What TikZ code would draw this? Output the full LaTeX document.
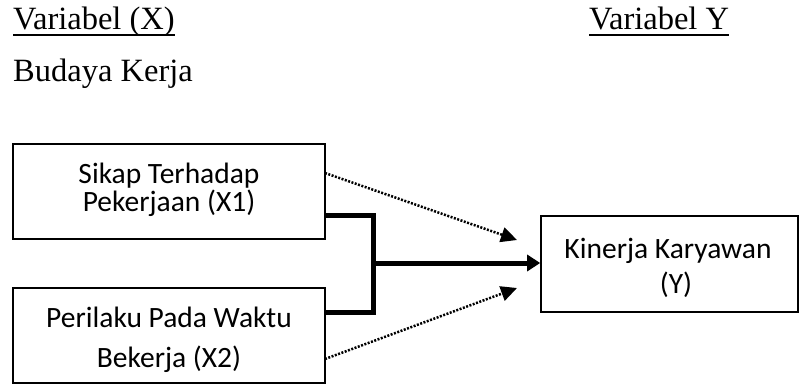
\documentclass[tikz,border=0pt]{standalone}
\usepackage{fontspec}
\setmainfont{Liberation Serif}
\newfontfamily\boxfont{Carlito}
\usetikzlibrary{arrows.meta}
\begin{document}
\begin{tikzpicture}[x=1pt,y=-1pt,
  heading/.style={inner sep=0pt, anchor=base west, font=\fontsize{32.5}{38}\selectfont},
  uline/.style={line width=1.5pt},
  box/.style={draw, line width=1.6pt, rectangle, inner sep=0pt},
  boxtext/.style={inner sep=0pt, align=center, font=\boxfont\fontsize{29.5}{28}\selectfont},
  thickline/.style={line width=5pt},
  dottedarrow/.style={line width=2.5pt, dash pattern=on 2pt off 1.5pt, -{Triangle[length=16pt,width=15pt]}},
  mainarrow/.style={line width=5pt, -{Triangle[length=13pt,width=16pt]}}
]
\useasboundingbox (0,0) rectangle (799,385);
% headings
\node[heading] (vx) at (13,30) {Variabel (X)};
\node[heading] (vy) at (589,30) {Variabel Y};
\node[heading] (bk) at (13,82) {Budaya Kerja};
\draw[uline] ([yshift=-5pt]vx.base west) -- ([yshift=-5pt]vx.base east);
\draw[uline] ([yshift=-5pt]vy.base west) -- ([yshift=-5pt]vy.base east);
% boxes
\node[box, minimum width=312pt, minimum height=95pt] (x1) at (169,191.5) {};
\node[box, minimum width=312pt, minimum height=95pt] (x2) at (169,335.5) {};
\node[box, minimum width=257pt, minimum height=96pt] (y) at (669.5,264) {};
\node[boxtext] (x1t) at (169,190) {Sikap Terhadap\\Pekerjaan (X1)};
\node[boxtext] (x2t) at (169,340) {Perilaku Pada Waktu\\[12pt]Bekerja (X2)};
\node[boxtext] (yt) at (668,268) {Kinerja Karyawan\\[7pt]\hspace*{16pt}(Y)};
% connectors
\coordinate (ja) at (373,215);
\coordinate (jb) at (373,312);
\coordinate (j) at (373,263);
\coordinate (d1) at (325,173);
\coordinate (d2) at (325,359);
\coordinate (t1) at (517,240);
\coordinate (t2) at (517,288);
\draw[thickline] (x1.east |- ja) -- (ja) -- (jb) -- (x2.east |- jb);
\draw[mainarrow] (j) -- (y.west |- j);
\draw[dottedarrow] (d1) -- (t1);
\draw[dottedarrow] (d2) -- (t2);
\end{tikzpicture}
\end{document}
